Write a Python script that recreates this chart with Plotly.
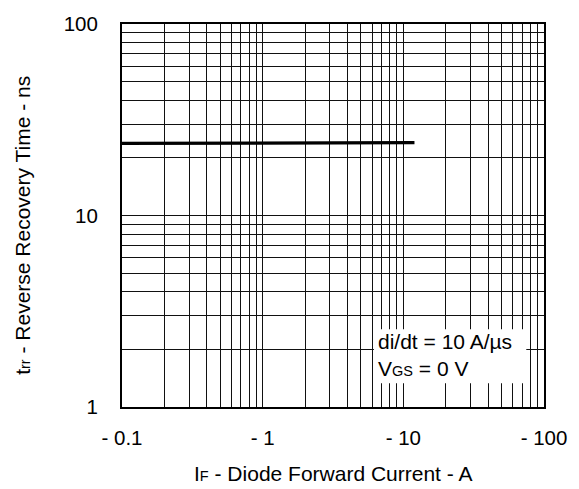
import plotly.graph_objects as go

# Data
current_A = [0.1, 12.0]          # |I_F| in A (axis labelled with minus sign)
trr_ns = [23.8, 24.0]            # reverse recovery time in ns

x_decades = [0.1, 1, 10]
x_end = 100
x_tick_labels = ["- 0.1", "- 1", "- 10", "- 100"]
y_decades = [1, 10]
y_end = 100
y_tick_labels = ["1", "10", "100"]

digits = [1, 2, 3, 4, 5, 6, 7, 8, 9]

x_major = x_decades + [x_end]
x_grid = [d * k for d in x_decades for k in digits] + [x_end]
x_text = [x_tick_labels[x_major.index(v)] if v in x_major else "" for v in x_grid]
y_major = y_decades + [y_end]
y_grid = [d * k for d in y_decades for k in digits] + [y_end]
y_text = [y_tick_labels[y_major.index(v)] if v in y_major else "" for v in y_grid]

FONT = "Arial, 'Liberation Sans', sans-serif"
FS = 21
TFS = 20.5
SUB = "<span style='font-size:14.5px'>{}</span>"

fig = go.Figure()
fig.add_trace(go.Scatter(x=current_A, y=trr_ns, mode="lines",
                         line=dict(color="black", width=3.2),
                         showlegend=False, hoverinfo="skip"))

fig.update_layout(
    width=579, height=489,
    margin=dict(l=122, r=23, t=16, b=82),
    paper_bgcolor="white", plot_bgcolor="white",
    font=dict(family=FONT, size=FS, color="black"),
    xaxis=dict(type="log", range=[-1, 2], tickmode="array",
               tickvals=x_grid, ticktext=x_text,
               showgrid=True, gridcolor="#111", gridwidth=1,
               showline=True, linecolor="black", linewidth=2, mirror=True,
               ticks="", ticklabelstandoff=11, zeroline=False,
               ticklabeloverflow="allow",
               tickfont=dict(family=FONT, size=TFS, color="black")),
    yaxis=dict(type="log", range=[0, 2], tickmode="array",
               tickvals=y_grid, ticktext=y_text,
               showgrid=True, gridcolor="#111", gridwidth=1,
               showline=True, linecolor="black", linewidth=2, mirror=True,
               ticks="", ticklabelstandoff=18, zeroline=False,
               ticklabeloverflow="allow",
               tickfont=dict(family=FONT, size=TFS, color="black")),
    shapes=[dict(type="rect", xref="paper", yref="paper",
                 x0=0.597, x1=0.958, y0=0.062, y1=0.203,
                 fillcolor="white", line=dict(width=0), layer="above")],
    annotations=[
        dict(xref="paper", yref="paper", x=0.601, y=0.136,
             xanchor="left", yanchor="middle", align="left", showarrow=False,
             text="di/dt = 10 A/µs<br>V" + SUB.format("GS") + " = 0 V",
             font=dict(family=FONT, size=FS, color="black")),
        dict(xref="paper", yref="paper", x=0.5, y=-0.174,
             xanchor="center", yanchor="middle", showarrow=False,
             text="I" + SUB.format("F") + " - Diode Forward Current - A",
             font=dict(family=FONT, size=FS, color="black")),
        dict(xref="paper", yref="paper", x=-0.236, y=0.474,
             xanchor="center", yanchor="middle", showarrow=False, textangle=-90,
             text="t" + SUB.format("rr") + " - Reverse Recovery Time - ns",
             font=dict(family=FONT, size=FS, color="black")),
    ],
)

fig.write_html("out.html", config={"displayModeBar": False},
               post_script="document.body.style.margin='0';document.body.style.overflow='hidden';")
